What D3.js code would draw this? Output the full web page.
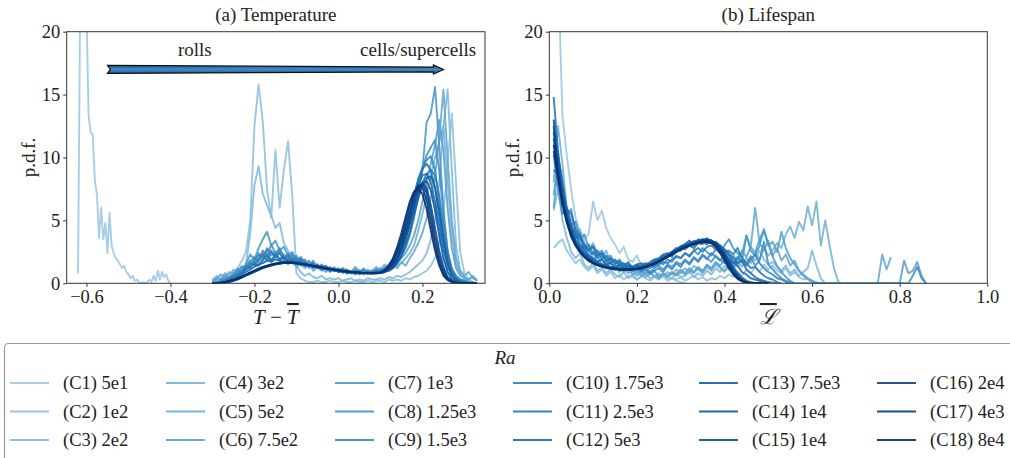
<!DOCTYPE html>
<html><head><meta charset="utf-8">
<script src="https://cdn.jsdelivr.net/npm/d3@7"></script>
<style>
body{margin:0;background:#fff}
svg{display:block}
text{font-family:"Liberation Serif","DejaVu Serif",serif;fill:#222}
</style>
</head><body>
<svg id="c" width="1010" height="458"></svg>
<script>
// ---------------- DATA ----------------
const seriesLabels = ["(C1) 5e1","(C2) 1e2","(C3) 2e2","(C4) 3e2","(C5) 5e2","(C6) 7.5e2","(C7) 1e3","(C8) 1.25e3","(C9) 1.5e3","(C10) 1.75e3","(C11) 2.5e3","(C12) 5e3","(C13) 7.5e3","(C14) 1e4","(C15) 1e4","(C16) 2e4","(C17) 4e3","(C18) 8e4"];
const tempTicks = [-0.6,-0.4,-0.2,0.0,0.2];
const lifeTicks = [0.0,0.2,0.4,0.6,0.8,1.0];
const pdfTicks = [0,5,10,15,20];

// (a) Temperature: bins for C1 (finer) and for C2..C18
const tempBinsC1 = [-0.620,-0.615,-0.610,-0.605,-0.600,-0.595,-0.590,-0.585,-0.580,-0.575,-0.570,-0.565,-0.560,-0.555,-0.550,-0.545,-0.540,-0.535,-0.530,-0.525,-0.520,-0.515,-0.510,-0.505,-0.500,-0.495,-0.490,-0.485,-0.480,-0.475,-0.470,-0.465,-0.460,-0.455,-0.450,-0.445,-0.440,-0.435,-0.430,-0.425,-0.420,-0.415,-0.410,-0.405,-0.400];
const tempBins = [-0.30,-0.29,-0.28,-0.27,-0.26,-0.25,-0.24,-0.23,-0.22,-0.21,-0.20,-0.19,-0.18,-0.17,-0.16,-0.15,-0.14,-0.13,-0.12,-0.11,-0.10,-0.09,-0.08,-0.07,-0.06,-0.05,-0.04,-0.03,-0.02,-0.01,0.00,0.01,0.02,0.03,0.04,0.05,0.06,0.07,0.08,0.09,0.10,0.11,0.12,0.13,0.14,0.15,0.16,0.17,0.18,0.19,0.20,0.21,0.22,0.23,0.24,0.25,0.26,0.27,0.28,0.29,0.30,0.31,0.32,0.33];

const tC1 = [0.8,22,25,24,22,13.4,12.0,11.8,8.2,7.0,3.6,6.0,3.5,4.8,2.4,5.6,3.0,2.4,2.0,1.8,1.5,1.2,1.4,0.9,0.7,0.4,0.6,0.2,0.3,0.1,0.0,0.1,0.0,0.1,0.3,0.1,0.6,0.2,1.0,0.3,0.9,0.5,0.7,0.2,0.0];
const tC2 = [0.2,0.6,0.3,0.8,0.4,0.9,1.2,1.8,2.5,5.0,12.5,15.8,12.8,7.5,5.2,10.6,6.0,9.0,11.3,7.0,0.8,0.4,0.2,0.1,0.1,0.2,0.1,0.1,0.2,0.1,0.1,0.2,0.1,0.1,0.2,0.1,0.1,0.2,0.1,0.2,0.2,0.1,0.3,0.2,0.3,0.2,0.4,0.3,0.5,0.6,0.8,1.0,1.4,2.0,3.2,5.5,9.5,13.5,8.0,2.5,0.8,0.3,0.1,0.0];
const tC3 = [0.1,0.4,0.2,0.6,0.3,0.7,0.5,1.0,1.5,4.0,7.8,9.3,7.1,6.2,5.4,4.4,4.8,3.2,2.6,2.0,1.4,0.9,0.6,0.8,0.5,0.4,0.6,0.3,0.4,0.3,0.4,0.2,0.3,0.4,0.2,0.3,0.2,0.4,0.3,0.3,0.4,0.3,0.5,0.4,0.6,0.5,0.7,0.9,1.2,1.5,1.8,2.4,3.5,5.0,8.0,12.5,15.4,9.0,3.0,1.0,0.4,0.1,0.0,0.0];
const tC4 = [0.3,0.5,0.4,0.8,0.6,1.1,0.9,1.4,1.2,1.8,1.5,2.2,1.7,2.4,1.9,2.0,2.6,1.8,2.1,1.6,1.9,1.4,1.7,1.2,1.5,1.3,1.0,1.4,1.1,1.3,0.9,1.2,1.0,0.8,1.1,0.9,1.2,0.8,1.0,1.3,1.1,1.5,1.2,1.8,1.4,1.6,2.0,2.4,3.0,4.2,5.5,7.0,8.5,10.0,11.2,12.5,8.0,4.0,1.5,0.8,0.5,0.3,0.6,0.2];
const tC5 = [0.2,0.4,0.7,0.5,0.9,0.7,1.2,1.0,1.6,1.3,2.0,1.6,2.5,2.0,1.8,2.3,1.7,2.1,1.5,1.8,1.3,1.6,1.2,1.5,1.0,1.3,1.1,0.9,1.2,1.0,1.2,0.8,1.1,0.9,1.3,1.0,0.8,1.1,0.9,1.2,1.0,1.3,1.1,1.5,1.2,1.7,1.4,2.0,2.5,3.2,4.0,5.2,6.8,8.5,11.5,15.4,10.0,5.0,2.0,1.0,0.6,0.9,0.4,0.3];
const tC6 = [0.1,0.3,0.2,0.6,0.4,0.8,1.0,0.9,1.4,1.8,1.6,2.4,2.0,2.8,2.2,2.5,1.9,2.3,1.8,2.1,1.6,1.9,1.4,1.6,1.2,1.5,1.1,1.3,1.0,1.2,1.0,1.1,0.8,1.0,0.7,0.9,1.1,0.8,1.0,0.9,1.2,1.0,1.4,1.2,1.6,2.0,2.4,3.0,3.8,5.0,6.5,8.0,9.5,11.0,13.0,10.5,6.0,2.8,1.2,0.6,0.4,0.3,0.5,0.2];
const tC7 = [0.0,0.1,0.2,0.4,0.3,0.7,1.1,0.9,1.5,2.3,1.9,2.8,3.5,4.1,3.0,3.4,2.6,2.9,2.2,2.5,1.8,2.1,1.7,1.4,1.8,1.2,1.5,1.1,1.3,1.0,1.2,0.9,1.1,0.8,1.0,0.9,0.7,1.0,0.8,1.1,0.9,1.2,1.0,1.4,1.6,2.1,2.8,3.8,5.2,7.0,9.0,12.8,13.5,15.6,11.0,6.0,2.5,1.0,0.5,0.3,0.2,0.1,0.1,0.0];
const tC8 = [0.1,0.0,0.3,0.2,0.5,0.6,0.9,1.3,1.1,1.7,2.1,1.8,2.6,2.2,3.1,2.4,2.8,2.0,2.4,1.9,2.2,1.6,1.9,1.3,1.6,1.4,1.1,1.3,0.9,1.2,1.0,1.1,0.8,0.9,1.1,0.7,0.9,0.8,1.0,0.9,1.1,1.0,1.3,1.5,1.9,2.6,3.5,4.8,6.2,7.8,9.0,10.2,10.8,11.4,9.0,5.5,2.6,1.2,0.6,0.3,0.2,0.1,0.0,0.0];
const tC9 = [0.0,0.1,0.1,0.3,0.4,0.6,0.8,1.0,1.4,1.2,1.8,2.3,2.0,2.7,2.4,2.1,2.6,2.2,1.9,2.3,1.7,2.0,1.5,1.8,1.3,1.5,1.2,1.4,1.0,1.1,0.9,1.2,1.0,0.8,1.0,0.9,1.1,0.8,0.9,1.0,1.0,1.2,1.5,1.9,2.5,3.3,4.4,5.6,7.0,8.3,9.2,9.8,10.1,9.0,6.5,3.8,1.8,0.8,0.4,0.2,0.1,0.1,0.0,0.0];
const tC10 = [0.0,0.0,0.1,0.2,0.3,0.5,0.7,0.9,1.2,1.6,1.4,1.9,2.3,1.8,2.6,2.1,2.4,1.9,2.2,1.7,2.0,1.5,1.7,1.4,1.6,1.2,1.4,1.1,1.2,1.0,1.1,0.9,1.0,0.8,0.9,1.0,0.8,0.9,0.8,1.0,0.9,1.1,1.3,1.6,2.0,2.7,3.6,4.7,5.9,7.0,8.0,8.7,9.0,8.6,7.0,4.5,2.4,1.1,0.5,0.2,0.1,0.0,0.0,0.0];
const tC11 = [0.0,0.0,0.1,0.1,0.3,0.4,0.6,0.8,1.1,1.3,1.6,1.4,1.9,2.2,1.8,2.3,1.9,2.1,1.7,1.9,1.6,1.8,1.4,1.5,1.3,1.4,1.1,1.2,1.0,1.1,0.9,1.0,0.8,0.9,0.8,0.9,0.8,0.9,0.8,0.9,0.9,1.0,1.2,1.5,2.1,2.9,4.0,5.4,6.9,8.2,9.1,9.5,9.0,7.6,5.4,3.2,1.6,0.7,0.3,0.1,0.1,0.0,0.0,0.0];
const tC12 = [0.0,0.0,0.0,0.1,0.2,0.3,0.5,0.7,0.9,1.1,1.3,1.5,1.6,1.8,1.7,1.9,1.8,1.7,1.8,1.6,1.7,1.5,1.5,1.4,1.3,1.3,1.2,1.1,1.1,1.0,1.0,0.9,0.9,0.9,0.8,0.8,0.8,0.8,0.8,0.8,0.9,1.0,1.2,1.5,2.0,2.8,3.9,5.2,6.6,7.8,8.6,8.7,8.0,6.5,4.6,2.7,1.3,0.6,0.2,0.1,0.0,0.0,0.0,0.0];
const tC13 = [0.0,0.0,0.0,0.05,0.1,0.2,0.3,0.45,0.6,0.75,0.9,1.05,1.2,1.3,1.4,1.5,1.55,1.6,1.6,1.6,1.55,1.5,1.45,1.4,1.35,1.3,1.25,1.2,1.15,1.1,1.05,1.0,0.95,0.9,0.88,0.85,0.82,0.8,0.8,0.8,0.82,0.88,1.0,1.2,1.6,2.2,3.0,4.1,5.4,6.7,7.8,8.4,8.5,7.6,5.8,3.6,1.8,0.7,0.25,0.1,0.0,0.0,0.0,0.0];
const tC14 = [0.0,0.0,0.02,0.06,0.12,0.22,0.33,0.47,0.62,0.78,0.93,1.08,1.22,1.33,1.43,1.5,1.56,1.6,1.62,1.6,1.57,1.52,1.47,1.42,1.36,1.3,1.24,1.18,1.12,1.07,1.02,0.97,0.93,0.9,0.87,0.84,0.82,0.8,0.79,0.8,0.82,0.9,1.05,1.3,1.8,2.5,3.5,4.7,6.0,7.2,7.9,8.1,7.4,5.8,3.8,2.0,0.9,0.35,0.1,0.0,0.0,0.0,0.0,0.0];
const tC15 = [0.0,0.01,0.03,0.07,0.14,0.24,0.36,0.5,0.65,0.8,0.95,1.1,1.24,1.35,1.45,1.52,1.58,1.62,1.63,1.62,1.58,1.53,1.48,1.42,1.36,1.3,1.24,1.18,1.12,1.06,1.01,0.96,0.92,0.88,0.85,0.83,0.81,0.8,0.8,0.81,0.85,0.95,1.1,1.4,2.0,2.8,3.9,5.2,6.5,7.5,8.0,7.6,6.2,4.4,2.6,1.3,0.5,0.2,0.05,0.0,0.0,0.0,0.0,0.0];
const tC16 = [0.0,0.01,0.03,0.08,0.15,0.25,0.37,0.52,0.67,0.82,0.97,1.12,1.26,1.37,1.47,1.54,1.6,1.63,1.64,1.63,1.6,1.55,1.5,1.44,1.38,1.32,1.26,1.2,1.14,1.08,1.03,0.98,0.94,0.9,0.87,0.84,0.82,0.81,0.81,0.82,0.85,1.0,1.2,1.6,2.3,3.2,4.4,5.7,6.9,7.7,7.9,7.2,5.6,3.7,2.1,1.0,0.4,0.15,0.05,0.0,0.0,0.0,0.0,0.0];
const tC17 = [0.0,0.01,0.04,0.09,0.16,0.26,0.38,0.53,0.68,0.84,0.99,1.14,1.28,1.39,1.48,1.55,1.61,1.64,1.65,1.64,1.61,1.56,1.51,1.45,1.39,1.33,1.27,1.21,1.15,1.09,1.04,0.99,0.95,0.91,0.88,0.85,0.83,0.82,0.82,0.83,0.85,1.0,1.3,1.8,2.6,3.6,4.9,6.2,7.2,7.8,7.6,6.6,4.9,3.1,1.7,0.8,0.3,0.1,0.0,0.0,0.0,0.0,0.0,0.0];
const tC18 = [0.0,0.02,0.05,0.1,0.18,0.28,0.4,0.55,0.7,0.86,1.01,1.16,1.3,1.41,1.5,1.57,1.62,1.65,1.66,1.65,1.62,1.57,1.52,1.46,1.4,1.34,1.28,1.22,1.16,1.1,1.05,1.0,0.96,0.92,0.89,0.86,0.84,0.83,0.83,0.84,0.85,1.05,1.4,2.0,2.9,4.0,5.3,6.5,7.3,7.5,7.1,5.9,4.2,2.6,1.4,0.6,0.25,0.1,0.0,0.0,0.0,0.0,0.0,0.0];

// (b) Lifespan
const lifeBins = [0.01,0.02,0.03,0.04,0.05,0.06,0.07,0.08,0.09,0.10,0.11,0.12,0.13,0.14,0.15,0.16,0.17,0.18,0.19,0.20,0.21,0.22,0.23,0.24,0.25,0.26,0.27,0.28,0.29,0.30,0.31,0.32,0.33,0.34,0.35,0.36,0.37,0.38,0.39,0.40,0.41,0.42,0.43,0.44,0.45,0.46,0.47,0.48,0.49,0.50,0.51,0.52,0.53,0.54,0.55,0.56,0.57,0.58,0.59,0.60,0.61,0.62,0.63,0.64,0.65,0.66,0.67,0.68,0.69,0.70,0.71,0.72,0.73,0.74,0.75,0.76,0.77,0.78,0.79,0.80,0.81,0.82,0.83,0.84,0.85,0.86,0.87,0.88];

const rC1 = [22,25,13.3,10.2,7.4,5.2,4.1,3.4,4.0,6.5,5.0,5.8,4.4,3.6,3.1,2.4,2.9,1.9,1.7,2.2,1.4,1.1,0.8,1.0,0.5,0.7,0.3,0.4,0.2,0.1,0.0];
const rC2 = [2.8,3.2,3.5,2.6,2.1,1.6,1.9,1.3,1.0,1.4,0.8,1.1,0.6,0.9,0.4,0.7,0.3,0.6,0.5,0.3,0.6,0.4,0.2,0.5,0.3,0.6,0.2,0.4,0.3,0.5,0.2,0.4,0.6,0.3,0.5,0.2,0.4,0.3,0.6,0.4,0.7,0.5,0.9,0.6,1.1,0.8,1.3,0.9,1.5,1.1,1.4,1.0,0.8,1.2,0.6,0.9,0.5,0.3,0.4,0.2,0.1,0.0];
const rC3 = [5.8,7.5,5.0,3.6,2.5,2.0,2.4,1.5,1.2,1.6,1.0,1.3,0.8,1.1,0.7,0.5,0.9,0.4,0.7,0.3,0.5,0.8,0.4,0.6,0.3,0.7,0.5,0.4,0.8,0.5,0.6,0.9,0.5,0.8,0.6,1.0,0.7,1.2,0.9,1.4,1.1,1.6,1.3,1.9,1.5,2.2,1.8,2.6,1.9,1.5,1.7,1.3,1.0,1.4,0.8,1.1,0.6,0.9,1.2,2.6,1.4,0.4,0.0];
const rC4 = [8.0,12.5,9.5,6.0,5.0,3.8,4.3,3.0,2.6,3.2,2.4,2.0,2.6,1.6,1.9,1.3,1.6,1.0,1.3,0.8,1.1,0.7,0.9,0.5,0.8,0.6,0.9,0.7,1.1,0.8,1.2,0.9,1.4,1.1,0.8,1.3,1.0,1.5,1.2,0.9,1.4,1.1,1.7,1.3,2.0,1.6,2.4,1.9,2.8,2.2,2.6,3.2,2.8,3.9,4.5,3.6,4.9,4.2,6.1,4.6,6.5,3.0,5.0,3.0,1.2,0.1,0.0];
const rC5 = [7.0,10.0,8.4,5.6,4.2,3.1,3.6,2.4,2.8,1.9,2.2,1.5,1.8,1.2,1.5,0.9,1.2,0.8,1.0,0.6,0.9,0.5,0.8,0.6,0.4,0.7,0.5,0.8,0.6,0.9,0.7,1.0,0.8,1.2,0.9,1.4,1.1,1.6,1.3,1.0,1.5,1.2,1.9,2.4,3.8,2.9,6.0,3.2,2.6,3.4,2.2,2.8,1.8,2.3,1.4,1.8,1.0,0.6,0.3,0.1,0.0,0.0,0.0,0.0,0.0,0.0,0.0,0.0,0.0,0.0,0.0,0.0,0.0,0.0,0.0,2.3,1.1,2.1];
const rC6 = [6.0,9.5,7.0,5.9,4.0,3.3,2.7,3.1,2.2,2.5,1.7,2.0,1.4,1.7,1.1,1.4,0.9,1.2,0.7,1.0,0.6,0.9,0.7,1.0,0.5,0.8,0.6,0.9,0.7,1.1,0.8,1.2,0.9,1.3,1.0,1.5,1.2,1.7,1.4,1.9,1.6,2.2,1.8,2.6,2.1,2.9,2.4,3.5,4.2,3.0,3.3,2.5,4.1,2.8,2.0,1.5,1.0,0.7,0.4,0.2,0.0,0.0,0.0,0.0,0.0,0.0,0.0,0.0,0.0,0.0,0.0,0.0,0.0,0.0,0.0,0.0,0.0,0.0,0.0,0.0,1.8,0.8,1.0,1.7,0.6,0.0];
const rC7 = [11.0,10.3,7.2,5.4,5.9,4.1,3.5,3.9,2.8,3.0,2.3,2.6,2.0,2.2,1.6,1.9,1.4,1.7,1.2,1.5,1.1,1.3,0.9,1.2,1.4,1.1,1.5,1.3,1.7,1.5,1.9,1.6,2.1,1.8,2.3,2.0,1.7,2.2,1.9,1.6,1.9,1.5,2.0,1.7,3.8,2.6,2.2,3.0,4.3,3.1,2.1,1.4,0.9,0.5,0.2,0.0];
const rC8 = [13.0,9.2,6.8,6.0,4.6,4.9,3.6,3.2,2.7,2.9,2.1,2.4,1.8,2.0,1.5,1.8,1.3,1.5,1.1,1.4,1.0,1.2,1.5,1.3,1.7,1.5,1.9,1.7,2.2,2.0,2.4,2.1,2.6,2.3,2.8,2.5,2.2,2.7,2.4,3.0,3.5,2.8,2.4,2.0,1.6,2.1,1.4,1.8,3.3,1.5,1.1,0.7,0.4,0.2,0.1,0.0,0.0,0.0,0.0,0.0,0.0,0.0,0.0,0.0,0.0,0.0,0.0,0.0,0.0,0.0,0.0,0.0,0.0,0.0,0.0,0.0,0.0,0.0,0.0,0.0,0.0,0.0,0.6,1.3,0.4,0.0];
const rC9 = [10.2,7.6,5.5,5.8,4.2,3.5,4.0,2.8,3.1,2.4,2.0,2.3,1.8,1.6,1.9,1.4,1.2,1.5,1.0,1.2,0.9,1.1,0.8,1.0,1.2,0.9,1.4,1.1,1.6,1.3,1.8,1.5,2.0,1.7,2.2,1.9,2.4,2.1,1.8,2.3,1.9,1.6,2.1,1.7,1.4,1.9,2.3,1.6,1.2,0.9,0.7,0.4,0.3,0.1,0.0];
const rC10 = [9.0,8.6,6.2,5.8,4.5,3.6,3.8,2.9,2.6,2.3,2.6,2.0,2.2,1.7,1.8,1.5,1.6,1.3,1.2,1.4,1.1,1.3,1.2,1.4,1.5,1.7,1.6,1.9,2.1,2.0,2.4,2.2,2.6,2.8,2.5,2.9,3.0,2.7,2.9,2.5,2.6,2.3,2.8,2.0,1.6,1.2,1.3,0.9,0.6,0.4,0.3,0.1,0.0];
const rC11 = [14.8,10.5,7.5,5.9,5.5,4.3,3.6,3.0,2.6,2.9,2.2,2.4,1.8,2.0,1.6,1.7,1.4,1.6,1.3,1.5,1.6,1.4,1.7,1.9,2.0,2.3,2.4,2.1,2.6,2.9,2.7,3.0,2.8,3.2,3.1,3.6,3.2,3.3,3.0,2.7,2.4,2.0,1.6,1.8,1.1,0.8,0.5,0.3,0.2,0.1,0.05,0.0];
const rC12 = [12.5,10.0,8.0,5.8,4.6,3.9,3.1,2.7,2.2,2.0,1.7,1.9,1.5,1.6,1.3,1.45,1.2,1.35,1.3,1.45,1.4,1.6,1.5,1.8,1.9,2.2,2.1,2.5,2.8,2.6,3.1,3.4,3.0,3.5,3.3,3.1,3.4,2.9,3.0,2.6,2.2,1.7,1.4,0.9,0.7,0.4,0.3,0.2,0.1,0.0];
const rC13 = [13.0,9.8,7.3,5.5,4.3,3.4,2.9,2.4,2.1,1.85,1.65,1.5,1.4,1.3,1.25,1.2,1.18,1.15,1.2,1.22,1.3,1.4,1.55,1.7,1.85,2.05,2.3,2.5,2.7,2.95,3.1,3.2,3.35,3.4,3.5,3.5,3.4,3.2,2.9,2.45,1.9,1.3,0.8,0.45,0.2,0.08,0.03,0.0,0.0,0.0];
const rC14 = [12.5,9.4,7.0,5.2,4.1,3.3,2.7,2.3,2.0,1.75,1.55,1.45,1.35,1.25,1.2,1.15,1.12,1.15,1.18,1.2,1.3,1.38,1.5,1.62,1.8,1.98,2.2,2.45,2.6,2.85,3.0,3.1,3.25,3.3,3.45,3.4,3.35,3.1,2.8,2.3,1.75,1.15,0.65,0.32,0.14,0.05,0.02,0.0,0.0,0.0];
const rC15 = [11.5,8.8,6.5,5.0,3.9,3.1,2.6,2.2,1.9,1.65,1.5,1.38,1.28,1.2,1.16,1.12,1.1,1.1,1.12,1.16,1.22,1.32,1.45,1.6,1.78,1.95,2.15,2.35,2.55,2.75,2.9,3.05,3.2,3.3,3.35,3.35,3.25,3.05,2.7,2.2,1.6,1.0,0.55,0.25,0.1,0.04,0.01,0.0,0.0,0.0];
const rC16 = [12.0,9.0,6.6,5.0,3.9,3.1,2.5,2.1,1.8,1.6,1.45,1.32,1.22,1.15,1.1,1.08,1.06,1.06,1.08,1.12,1.18,1.28,1.4,1.55,1.72,1.9,2.1,2.3,2.5,2.7,2.9,3.05,3.2,3.3,3.4,3.45,3.4,3.2,2.8,2.2,1.5,0.9,0.45,0.2,0.08,0.03,0.0,0.0,0.0,0.0];
const rC17 = [10.5,8.3,6.3,4.8,3.7,3.0,2.5,2.1,1.8,1.6,1.45,1.35,1.25,1.2,1.15,1.12,1.1,1.1,1.12,1.16,1.22,1.3,1.42,1.56,1.72,1.9,2.1,2.3,2.5,2.68,2.85,3.0,3.12,3.22,3.3,3.3,3.2,3.0,2.6,2.0,1.35,0.8,0.4,0.18,0.07,0.02,0.0,0.0,0.0,0.0];
const rC18 = [11.0,8.6,6.4,4.9,3.8,3.0,2.5,2.1,1.8,1.6,1.45,1.35,1.25,1.2,1.15,1.1,1.1,1.1,1.12,1.15,1.2,1.3,1.4,1.55,1.7,1.9,2.1,2.3,2.5,2.7,2.85,3.0,3.1,3.2,3.25,3.3,3.2,2.9,2.4,1.8,1.2,0.7,0.35,0.15,0.05,0.0,0.0,0.0,0.0,0.0];

// annotation arrow (data coordinates of panel a)
const arrowFrom = [-0.55, 17];
const arrowTo = [0.25, 17];
const annotRolls = [-0.342, 18.6];
const annotCells = [0.328, 18.6];

// ---------------- DRAWING ----------------
const svg = d3.select("#c");
const FS = 19;      // titles, labels
const FT = 18.5;    // ticks, legend
const color = i => d3.interpolateBlues(0.37 + 0.63 * i / 17);

const y = d3.scaleLinear().domain([0, 20]).range([283.3, 31.7]);
const xL = d3.scaleLinear().domain([-0.647, 0.349]).range([66.7, 485]);
const xR = d3.scaleLinear().domain([0, 1]).range([549.3, 987.3]);

const tempSeries = [
  {bins: tempBinsC1, values: tC1},
  ...[tC2,tC3,tC4,tC5,tC6,tC7,tC8,tC9,tC10,tC11,tC12,tC13,tC14,tC15,tC16,tC17,tC18].map(v => ({bins: tempBins, values: v}))
];
const lifeSeries = [rC1,rC2,rC3,rC4,rC5,rC6,rC7,rC8,rC9,rC10,rC11,rC12,rC13,rC14,rC15,rC16,rC17,rC18].map(v => ({bins: lifeBins, values: v}));

const defs = svg.append("defs");

function panel(x, id, title, ticks, fmt, series, xlabelFn, ylabX) {
  const [x0, x1] = x.range();
  const yb = y.range()[0], yt = y.range()[1];
  defs.append("clipPath").attr("id", id).append("rect")
    .attr("x", x0).attr("y", yt).attr("width", x1 - x0).attr("height", yb - yt);
  const g = svg.append("g").attr("clip-path", `url(#${id})`);
  const line = d3.line().x(d => x(d[0])).y(d => y(d[1]));
  series.forEach((s, i) => {
    const pts = s.values.map((v, k) => [s.bins[k], v]).filter(d => d[0] !== undefined);
    g.append("path").attr("d", line(pts))
      .attr("fill", "none").attr("stroke", color(i))
      .attr("stroke-width", 1.9).attr("stroke-opacity", 0.9)
      .attr("stroke-linejoin", "round");
  });
  // axes
  const ax = svg.append("g").attr("transform", `translate(0,${yb})`)
    .call(d3.axisBottom(x).tickValues(ticks).tickFormat(fmt).tickSize(3.5).tickPadding(3));
  const ay = svg.append("g").attr("transform", `translate(${x0},0)`)
    .call(d3.axisLeft(y).tickValues(pdfTicks).tickFormat(d3.format("d")).tickSize(3.5).tickPadding(3));
  [ax, ay].forEach(a => {
    a.select(".domain").remove();
    a.selectAll("line").attr("stroke", "#333");
    a.selectAll("text").attr("font-size", FT).attr("fill", "#222")
      .style("font-family", '"Liberation Serif","DejaVu Serif",serif');
  });
  svg.append("rect").attr("x", x0).attr("y", yt).attr("width", x1 - x0).attr("height", yb - yt)
    .attr("fill", "none").attr("stroke", "#333").attr("stroke-width", 1);
  // title
  svg.append("text").attr("x", (x0 + x1) / 2).attr("y", 14).attr("text-anchor", "middle")
    .attr("dominant-baseline", "central").attr("font-size", FS).text(title);
  // y label
  svg.append("text").attr("transform", `translate(${ylabX},${(yb + yt) / 2}) rotate(-90)`)
    .attr("text-anchor", "middle").attr("font-size", FS).text("p.d.f.");
  // x label
  xlabelFn(svg.append("text").attr("x", (x0 + x1) / 2).attr("y", 324).attr("text-anchor", "middle").attr("font-size", 21));
}

panel(xL, "clipA", "(a) Temperature", tempTicks, d3.format(".1f"), tempSeries, t => {
  t.append("tspan").attr("font-style", "italic").text("T");
  t.append("tspan").text(" \u2212 ");
  t.append("tspan").attr("font-style", "italic").attr("text-decoration", "overline").text("T");
}, 35);

panel(xR, "clipB", "(b) Lifespan", lifeTicks, d3.format(".1f"), lifeSeries, t => {
  t.append("tspan").attr("font-style", "italic").attr("text-decoration", "overline").text("\u2112");
}, 519);

// arrow annotation
const grad = defs.append("linearGradient").attr("id", "arrGrad").attr("x1", 0).attr("y1", 0).attr("x2", 0).attr("y2", 1);
grad.append("stop").attr("offset", "0%").attr("stop-color", "#1c5a97");
grad.append("stop").attr("offset", "50%").attr("stop-color", "#3f88c5");
grad.append("stop").attr("offset", "100%").attr("stop-color", "#1c5a97");
{
  const ax0 = xL(arrowFrom[0]), ax1 = xL(arrowTo[0]), ay0 = y(arrowFrom[1]);
  const hw0 = 4, hw1 = 2.4, hh = 4.6, hl = 10, notch = 3;
  const pts = [
    [ax0, ay0 - hw0], [ax1 - hl, ay0 - hw1], [ax1 - hl, ay0 - hh], [ax1, ay0],
    [ax1 - hl, ay0 + hh], [ax1 - hl, ay0 + hw1], [ax0, ay0 + hw0], [ax0 + notch, ay0]
  ];
  svg.append("polygon").attr("points", pts.map(p => p.join(",")).join(" "))
    .attr("fill", "url(#arrGrad)").attr("stroke", "#111").attr("stroke-width", 1.2)
    .attr("stroke-linejoin", "miter");
}
svg.append("text").attr("x", xL(annotRolls[0])).attr("y", y(annotRolls[1])).attr("text-anchor", "middle")
  .attr("dominant-baseline", "central").attr("font-size", FS).text("rolls");
svg.append("text").attr("x", xL(annotCells[0])).attr("y", y(annotCells[1])).attr("text-anchor", "end")
  .attr("dominant-baseline", "central").attr("font-size", FS).text("cells/supercells");

// legend
svg.append("rect").attr("x", 4.5).attr("y", 343.5).attr("width", 1030).attr("height", 140).attr("rx", 4)
  .attr("fill", "#fff").attr("stroke", "#999").attr("stroke-width", 1.2);
svg.append("text").attr("x", 505).attr("y", 357).attr("text-anchor", "middle").attr("dominant-baseline", "central")
  .attr("font-size", FS).attr("font-style", "italic").text("Ra");
const colX = [10, 166, 335, 513, 699, 877];
const rowY = [383, 411.5, 440];
const lg = svg.append("g").selectAll("g").data(seriesLabels).join("g")
  .attr("transform", (d, i) => `translate(${colX[Math.floor(i / 3)]},${rowY[i % 3]})`);
lg.append("line").attr("x1", 0).attr("x2", 39).attr("y1", 0).attr("y2", 0)
  .attr("stroke", (d, i) => color(i)).attr("stroke-width", 1.9).attr("stroke-opacity", 0.9);
lg.append("text").attr("x", 53).attr("y", 0).attr("dominant-baseline", "central").attr("font-size", FT).text(d => d);
</script>
</body></html>
